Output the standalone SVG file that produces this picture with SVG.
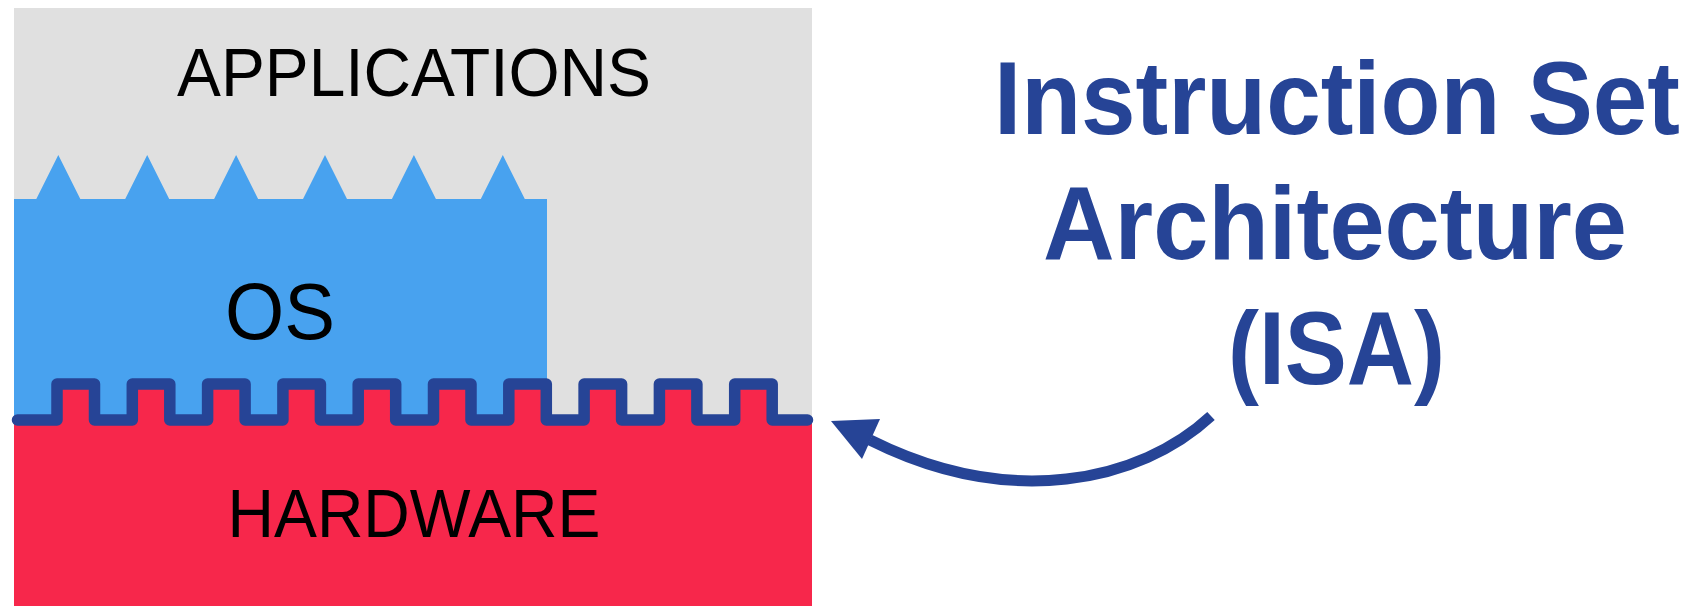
<svg xmlns="http://www.w3.org/2000/svg" width="1704" height="606" viewBox="0 0 1704 606">
  <style>
    .layer-label { font-family: "Liberation Sans", Arial, sans-serif; fill: #000000; text-anchor: middle; }
    .isa-text { font-family: "Liberation Sans", Arial, sans-serif; font-weight: bold; fill: #264496; text-anchor: middle; font-size: 104px; }
    .isa-line { fill: none; stroke: #264496; stroke-width: 11.5; stroke-linejoin: round; stroke-linecap: round; }
    .connector { fill: none; stroke: #264496; stroke-width: 11; }
    .connector-head { fill: #264496; }
  </style>

  <rect width="1704" height="606" fill="#ffffff"/>

  <!-- Applications layer: grey backdrop -->
  <g id="applications">
    <rect x="14" y="8" width="798" height="598" fill="#e0e0e0"/>
    <text class="layer-label" x="414" y="95.7" font-size="68" textLength="474" lengthAdjust="spacingAndGlyphs">APPLICATIONS</text>
  </g>

  <!-- Operating system layer with spikes poking into the applications -->
  <g id="os">
    <path fill="#48a2ef" d="M14,420 L14,199 L36.3,199 L58.3,155 L80.3,199 L125.2,199 L147.2,155 L169.2,199 L214.1,199 L236.1,155 L258.1,199 L303,199 L325,155 L347,199 L391.9,199 L413.9,155 L435.9,199 L480.8,199 L502.8,155 L524.8,199 L547,199 L547,420 Z"/>
    <text class="layer-label" x="280" y="339" font-size="79" textLength="110" lengthAdjust="spacingAndGlyphs">OS</text>
  </g>

  <!-- Hardware layer, top edge follows the interface teeth -->
  <g id="hardware">
    <path fill="#f7274b" d="M14,420 H57 V384 H94.5 V420 H132.3 V384 H169.8 V420 H207.6 V384 H245.1 V420 H282.9 V384 H320.4 V420 H358.2 V384 H395.7 V420 H433.5 V384 H471 V420 H508.8 V384 H546.3 V420 H584.1 V384 H621.6 V420 H659.4 V384 H696.9 V420 H734.7 V384 H772.2 V420 H812 V606 H14 Z"/>
    <text class="layer-label" x="414" y="536.7" font-size="68" textLength="373" lengthAdjust="spacingAndGlyphs">HARDWARE</text>
  </g>

  <!-- Interface boundary between software and hardware -->
  <g id="isa-boundary">
    <path class="isa-line" d="M17.5,420 H57 V384 H94.5 V420 H132.3 V384 H169.8 V420 H207.6 V384 H245.1 V420 H282.9 V384 H320.4 V420 H358.2 V384 H395.7 V420 H433.5 V384 H471 V420 H508.8 V384 H546.3 V420 H584.1 V384 H621.6 V420 H659.4 V384 H696.9 V420 H734.7 V384 H772.2 V420 H807.5"/>
  </g>

  <!-- Label -->
  <g id="isa-label">
    <text class="isa-text" x="1337" y="134" textLength="686" lengthAdjust="spacingAndGlyphs">Instruction Set</text>
    <text class="isa-text" x="1335" y="258.6" textLength="584" lengthAdjust="spacingAndGlyphs">Architecture</text>
    <text class="isa-text" x="1336.5" y="384" textLength="217" lengthAdjust="spacingAndGlyphs">(ISA)</text>
  </g>

  <!-- Connectors -->
  <g id="connectors">
    <path class="connector" d="M1211,416 C1140,482 1010,510 870,440"/>
    <polygon class="connector-head" points="831,421 880,419 862,459"/>
  </g>
</svg>
